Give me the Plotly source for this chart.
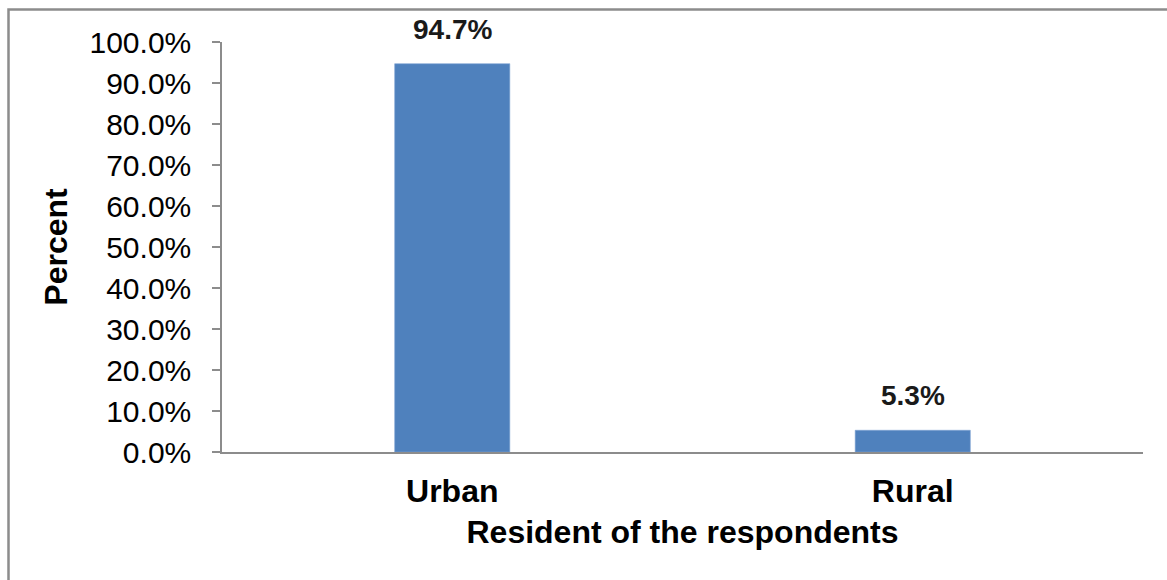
import plotly.graph_objects as go

# Respondent residence breakdown
categories = ["Urban", "Rural"]
percents = [94.7, 5.3]
y_ticks = [0, 10, 20, 30, 40, 50, 60, 70, 80, 90, 100]

FONT = "Liberation Sans, Arial, sans-serif"
BAR_COLOR = "#4F81BD"
AXIS_COLOR = "#8c8c8c"

fig = go.Figure()
fig.add_trace(go.Bar(
    x=categories,
    y=percents,
    width=0.25,
    marker=dict(color=BAR_COLOR, line=dict(color="#7ea3d3", width=0.6)),
    hoverinfo="skip",
))

# Value labels above each bar
for cat, val in zip(categories, percents):
    fig.add_annotation(
        x=cat, y=val, xref="x", yref="y",
        text=f"<b>{val:.1f}%</b>",
        showarrow=False, yanchor="bottom", yshift=17,
        font=dict(family=FONT, size=28, color="#1a1a1a"),
    )

# Outer frame of the chart area
fig.add_shape(
    type="rect", xref="paper", yref="paper",
    x0=(8.5 - 222) / 921, x1=1.3,
    y0=-0.6, y1=(452 - 9.5) / 410,
    line=dict(color=AXIS_COLOR, width=2.5),
    layer="below",
)

fig.update_layout(
    width=1167, height=580,
    margin=dict(l=222, r=24, t=42, b=128),
    plot_bgcolor="white", paper_bgcolor="white",
    showlegend=False,
    bargap=0.75,
    xaxis=dict(
        type="category",
        range=[-0.5, 1.5],
        showline=True, linecolor=AXIS_COLOR, linewidth=1.5,
        ticks="", showgrid=False,
        tickfont=dict(family=FONT, size=32, color="#000000"),
        tickprefix="<b>", ticksuffix="</b>",
        ticklabelstandoff=10,
        title=dict(text="<b>Resident of the respondents</b>",
                   font=dict(family=FONT, size=32, color="#000000"),
                   standoff=12),
    ),
    yaxis=dict(
        range=[0, 100],
        tickvals=y_ticks,
        ticktext=[f"{v:.1f}%" for v in y_ticks],
        showline=True, linecolor=AXIS_COLOR, linewidth=1.5,
        ticks="outside", ticklen=8, tickcolor=AXIS_COLOR, tickwidth=1.5,
        showgrid=False, zeroline=False,
        tickfont=dict(family=FONT, size=30, color="#000000"),
        ticklabelstandoff=15,
        title=dict(text="<b>Percent</b>",
                   font=dict(family=FONT, size=32, color="#000000"),
                   standoff=12),
    ),
)

fig.write_html("out.html")
